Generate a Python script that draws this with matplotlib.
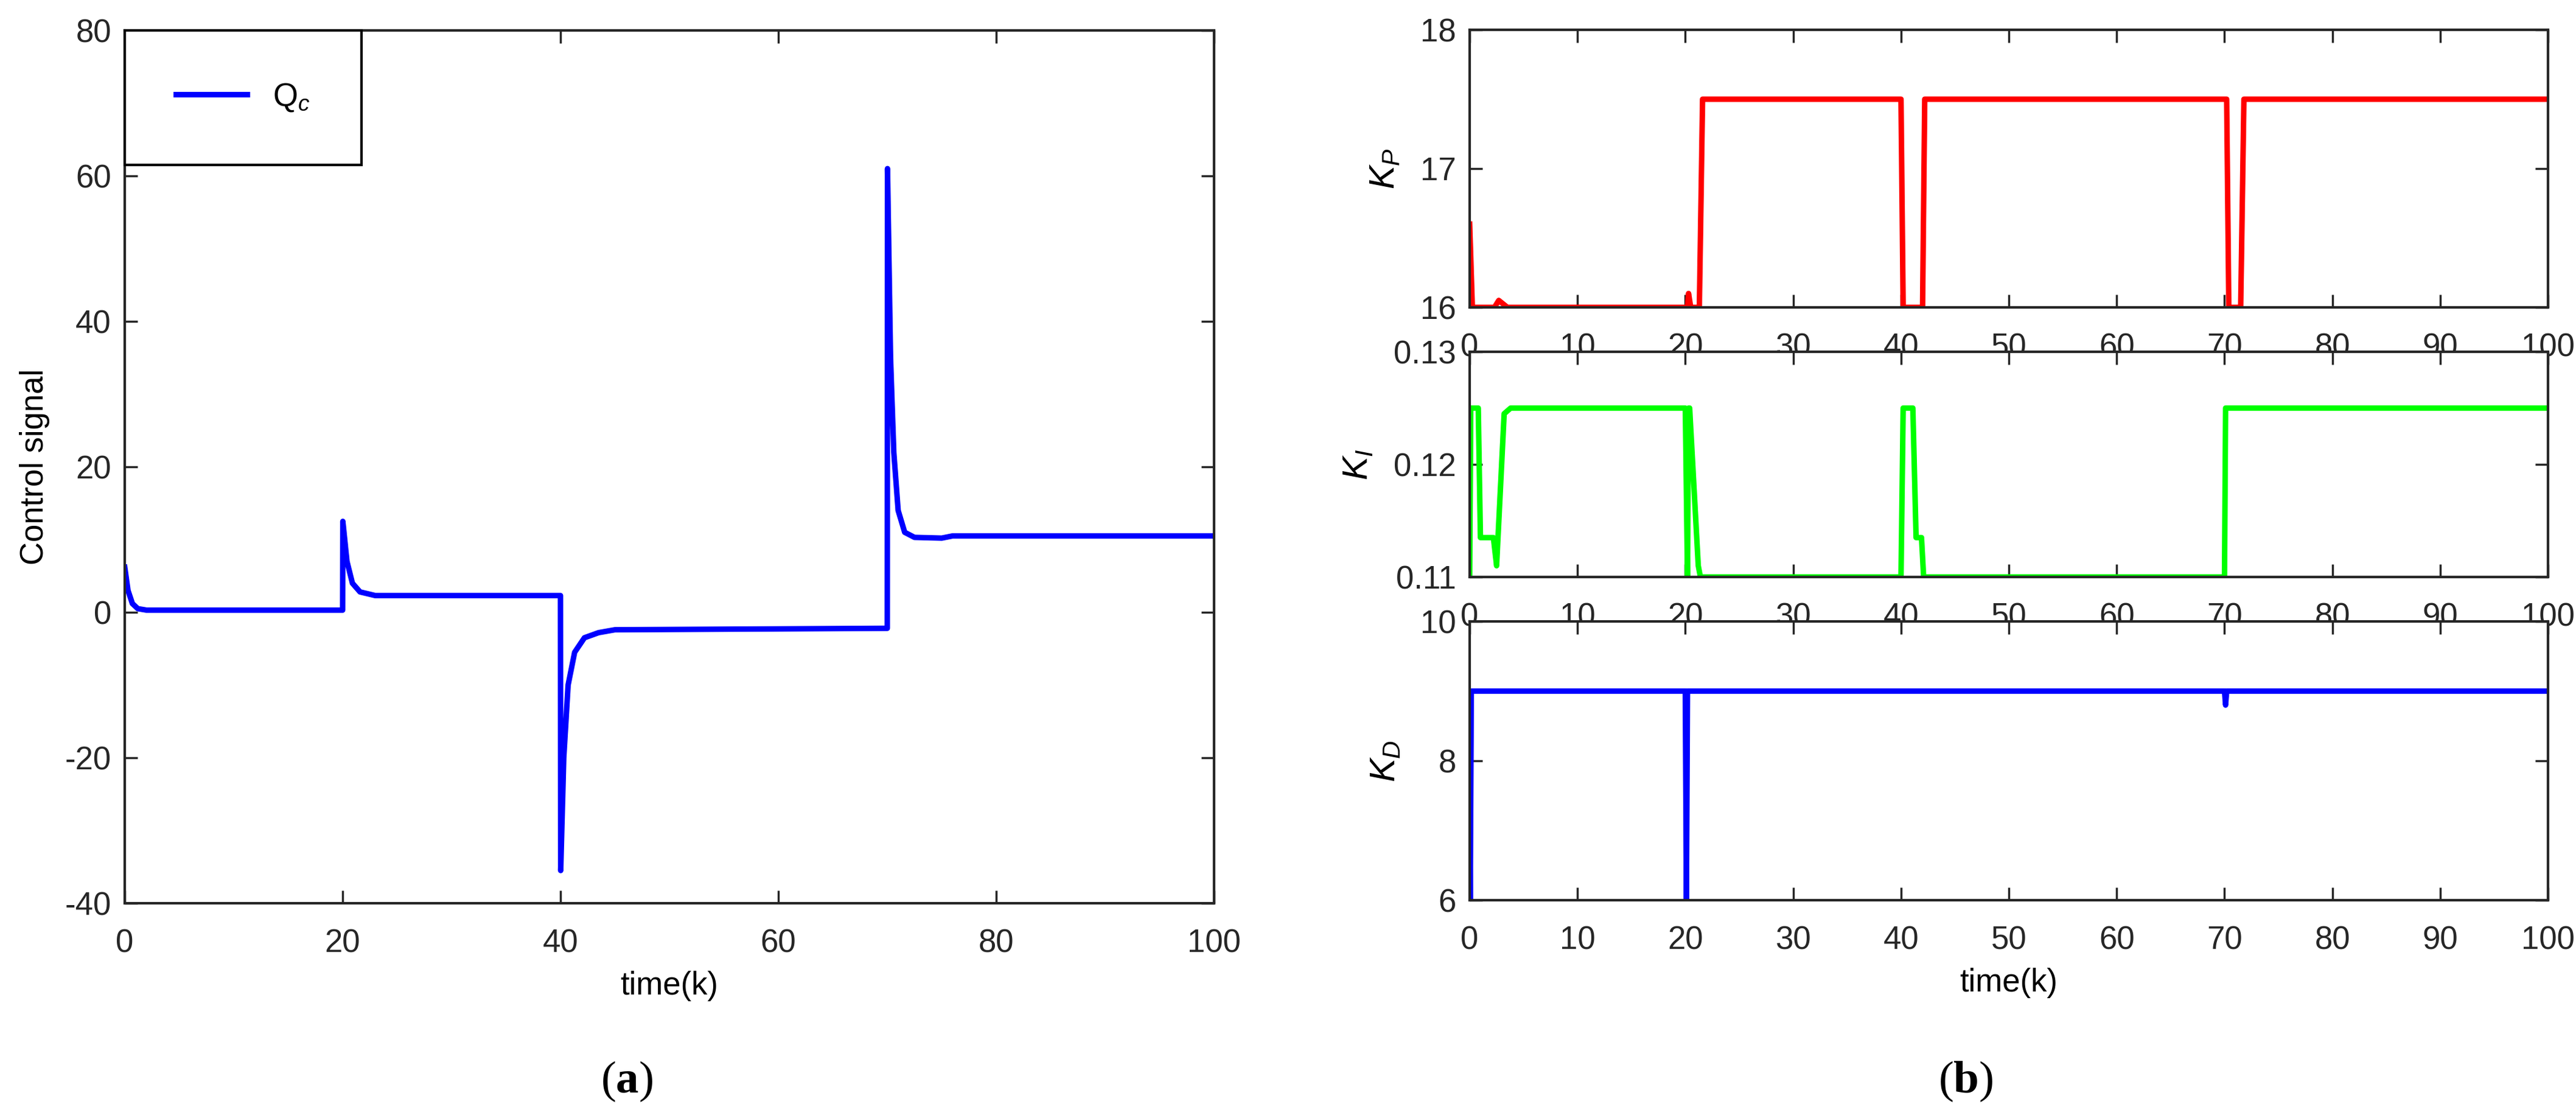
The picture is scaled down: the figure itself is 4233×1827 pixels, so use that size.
import matplotlib
matplotlib.use('Agg')
import matplotlib.pyplot as plt

plt.rcParams['font.family'] = ['Liberation Sans', 'DejaVu Sans']
plt.rcParams['mathtext.fontset'] = 'custom'
plt.rcParams['mathtext.it'] = 'Liberation Sans:italic'
plt.rcParams['mathtext.rm'] = 'Liberation Sans'
plt.rcParams['mathtext.bf'] = 'Liberation Serif:bold'
plt.rcParams['axes.unicode_minus'] = False
plt.rcParams['font.size'] = 38

# control signal Qc
t_qc = [0, 0.3, 0.7, 1.2, 2, 20, 20.02, 20.4, 20.9, 21.6, 23, 40, 40.02, 40.3, 40.7,
        41.3, 42.2, 43.5, 45, 70, 70.02, 70.3, 70.6, 71, 71.6, 72.5, 75, 76, 100]
qc = [6.2, 3, 1.2, 0.5, 0.3, 0.3, 12.5, 7, 4, 2.8, 2.3, 2.3, -35.5, -20, -10,
      -5.5, -3.5, -2.8, -2.4, -2.2, 61, 35, 22, 14, 11, 10.3, 10.2, 10.5, 10.5]

# gains
t_kp = [0, 0.25, 2.3, 2.7, 3.5, 20.2, 20.3, 20.5, 21.3, 21.6, 40, 40.2, 42, 42.2,
        70.2, 70.4, 71.5, 71.8, 100]
kp = [16.6, 16.0, 16.0, 16.05, 16.0, 16.0, 16.1, 16.0, 16.0, 17.5, 17.5, 16.0, 16.0, 17.5,
      17.5, 16.0, 16.0, 17.5, 17.5]

t_ki = [0, 0.1, 0.8, 1.0, 2.2, 2.5, 3.2, 3.8, 20.0, 20.2, 20.3, 20.4, 21.2, 21.4,
        40.0, 40.2, 41.1, 41.4, 41.9, 42.1, 70.0, 70.1, 100]
ki = [0.11, 0.125, 0.125, 0.1135, 0.1135, 0.111, 0.1245, 0.125, 0.125, 0.11, 0.125, 0.125, 0.111, 0.11,
      0.11, 0.125, 0.125, 0.1135, 0.1135, 0.11, 0.11, 0.125, 0.125]

t_kd = [0, 0.05, 0.15, 0.25, 20.0, 20.1, 20.2, 70.0, 70.1, 70.2, 100]
kd = [7.1, 6.0, 9.0, 9.0, 9.0, 6.0, 9.0, 9.0, 8.8, 9.0, 9.0]

W, H = 4233, 1827
fig = plt.figure(figsize=(W / 100, H / 100), dpi=100)


def box(l, t, r, b):
    return [l / W, 1 - b / H, (r - l) / W, (b - t) / H]


def style(ax):
    for s in ax.spines.values():
        s.set_linewidth(3)
        s.set_color('#262626')
    ax.tick_params(direction='in', length=15, width=2.5, colors='#262626',
                   top=True, right=True)
    ax.tick_params(axis='x', pad=30)
    ax.tick_params(axis='y', pad=16)


lw = 6.5
ax = fig.add_axes(box(205, 50, 1995, 1484))
ax.plot(t_qc, qc, color='#0000ff', lw=lw, label=r'$\mathrm{Q}_c$')
ax.set_xlim(0, 100)
ax.set_ylim(-40, 80)
ax.set_xticks([0, 20, 40, 60, 80, 100])
ax.set_yticks([-40, -20, 0, 20, 40, 60, 80])
ax.set_xlabel('time(k)', labelpad=14)
ax.set_ylabel('Control signal', labelpad=18)
style(ax)
leg = ax.legend(loc='upper left', bbox_to_anchor=(0, 1), borderaxespad=0, fancybox=False,
                borderpad=1.6, handlelength=2.2, framealpha=1)
leg.get_frame().set_edgecolor('black')
leg.get_frame().set_linewidth(3)
fig.text(1030 / W, 1 - 1777 / H, r'($\mathbf{a}$)', ha='center', va='center',
         family='Liberation Serif', fontsize=54)

panels = [
    (49, 505, t_kp, kp, '#ff0000', (16, 18), [16, 17, 18], '$K_P$'),
    (578, 948, t_ki, ki, '#00ff00', (0.11, 0.13), [0.11, 0.12, 0.13], '$K_I$'),
    (1021, 1479, t_kd, kd, '#0000ff', (6, 10), [6, 8, 10], '$K_D$'),
]
for top, bot, tx, yv, col, yl, yt, lab in panels:
    a = fig.add_axes(box(2415, top, 4187, bot))
    a.plot(tx, yv, color=col, lw=lw)
    a.set_xlim(0, 100)
    a.set_ylim(*yl)
    a.set_yticks(yt)
    a.set_xticks(range(0, 101, 10))
    a.set_ylabel(lab, labelpad=22, fontsize=42)
    style(a)
a.set_xlabel('time(k)', labelpad=14)
fig.text(3230 / W, 1 - 1777 / H, r'($\mathbf{b}$)', ha='center', va='center',
         family='Liberation Serif', fontsize=54)

fig.savefig('out.png', dpi=100)
